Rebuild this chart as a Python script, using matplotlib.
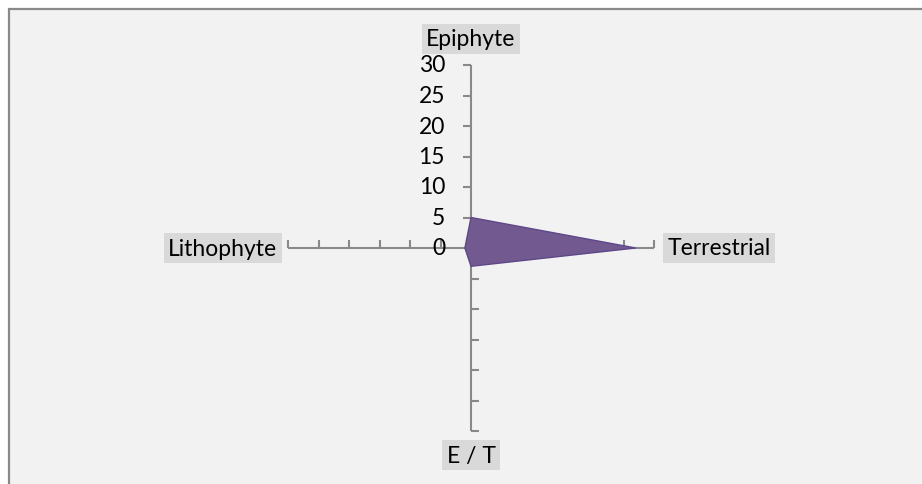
import numpy as np
import matplotlib
matplotlib.use("Agg")
import matplotlib.pyplot as plt
from matplotlib.patches import Rectangle, Polygon

categories = ["Epiphyte", "Terrestrial", "E / T", "Lithophyte"]
values = [5, 27, 3, 1]
tick_values = [0, 5, 10, 15, 20, 25, 30]
rmax = 30

W, H = 922, 485
fig = plt.figure(figsize=(W / 100, H / 100), dpi=100)
fig.patch.set_facecolor("white")

ax = fig.add_axes([0, 0, 1, 1])
ax.set_facecolor("none")
ppu = 6.1  # pixels per unit
cx, cy = 471, 249
ax.set_xlim(-cx / ppu, (W - cx) / ppu)
ax.set_ylim(-(H - cy) / ppu, cy / ppu)
ax.axis("off")

# chart area background with border (top/left visible)
bg = Rectangle((8.5 / W, -0.05), 1.2, (H - 9.5) / H + 0.05, transform=ax.transAxes,
               facecolor="#F2F2F2", edgecolor="#898989", linewidth=1.6, zorder=0,
               clip_on=False)
ax.add_patch(bg)

# angles: Epiphyte up, clockwise
angles = np.pi / 2 - np.arange(len(categories)) * 2 * np.pi / len(categories)

axis_color = "#898989"
font = "Lato"
fs = 16.5
tick_len = 8 / ppu

# polygon
xs = [v * np.cos(a) for v, a in zip(values, angles)]
ys = [v * np.sin(a) for v, a in zip(values, angles)]
poly = Polygon(np.column_stack([xs, ys]), closed=True, facecolor="#725A91",
               edgecolor="#5E4887", linewidth=1.0, zorder=3)
ax.add_patch(poly)

# spokes and ticks
tick_dirs = [(-1, 0), (0, 1), (1, 0), (0, 1)]
for a, (tdx, tdy) in zip(angles, tick_dirs):
    ex, ey = rmax * np.cos(a), rmax * np.sin(a)
    ax.plot([0, ex], [0, ey], color=axis_color, lw=1.5, zorder=2, solid_capstyle="butt")
    for t in tick_values[1:]:
        px, py = t * np.cos(a), t * np.sin(a)
        ax.plot([px, px + tdx * tick_len], [py, py + tdy * tick_len], color=axis_color,
                lw=1.5, zorder=2, solid_capstyle="butt")

# radial tick labels
for t in tick_values:
    ax.text(-26 / ppu, t, str(t), ha="right", va="center", fontsize=fs, family=font,
            color="black", zorder=4)

# category labels
label_pos = [(0, 34.3), (40.7, 0), (0, -34.0), (-40.7, 0)]
for cat, (lx, ly) in zip(categories, label_pos):
    ax.text(lx, ly, cat, ha="center", va="center", fontsize=fs, family=font, color="black",
            bbox=dict(boxstyle="square,pad=0.2", facecolor="#D9D9D9", edgecolor="none"),
            zorder=4)

fig.savefig("out.png", dpi=100)
